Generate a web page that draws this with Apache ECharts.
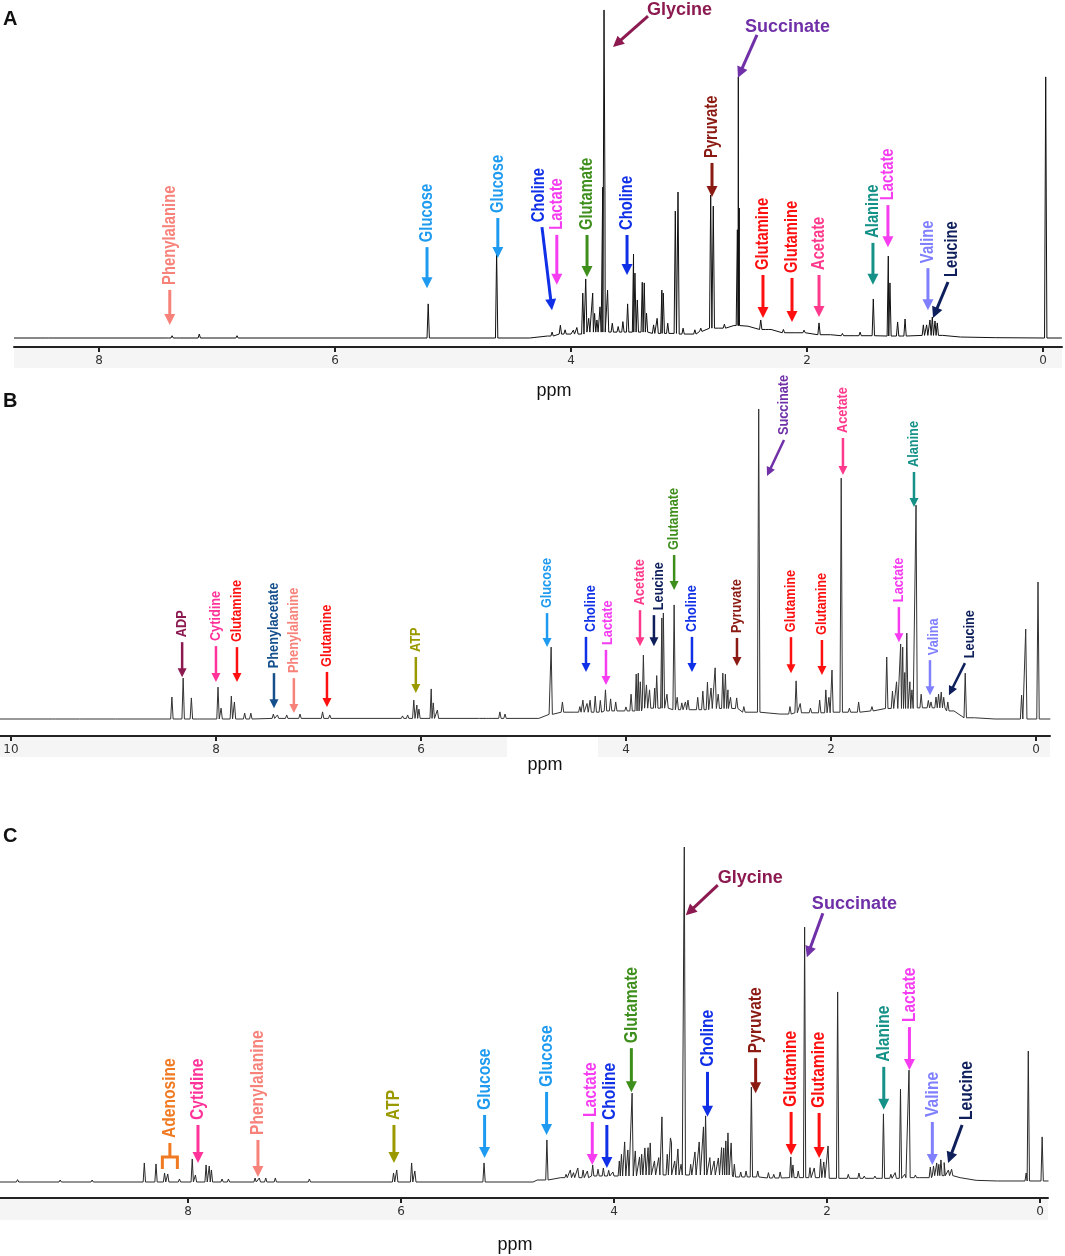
<!DOCTYPE html>
<html>
<head>
<meta charset="utf-8">
<script src="https://cdn.jsdelivr.net/npm/echarts@6/dist/echarts.min.js"></script>
<style>
  html, body { margin: 0; padding: 0; background: #fff; }
  #chart { width: 1065px; height: 1256px; }
</style>
</head>
<body>
<div id="chart"></div>
<script>
// ---- panel A : peaks [ppm, height], baseline [ppm, level]
var peaksA = [
    [8.44, 0.5], [7.42, 0.6], [7.38, 0.7], [7.33, 0.6], [7.15, 1.2], [6.83, 0.7],
    [5.21, 10.4], [4.63, 26.2],
    [4.16, 1.8], [4.09, 3.9], [4.05, 2.5], [3.98, 2.4], [3.95, 3.2],
    [3.90, 13.7], [3.875, 18.0], [3.85, 6.0], [3.816, 13.7], [3.80, 7.5], [3.78, 5.5], [3.754, 9.5],
    [3.731, 46], [3.72, 100], [3.712, 43], [3.69, 14.6], [3.65, 4.5], [3.60, 3.5], [3.56, 5.0],
    [3.52, 10.4], [3.47, 25.6], [3.458, 19.8], [3.438, 11.6], [3.396, 17.0], [3.379, 16.8], [3.36, 7.6],
    [3.30, 4.0], [3.27, 6.0], [3.23, 14.6], [3.218, 13.7], [3.18, 4.5],
    [3.116, 38.7], [3.093, 44.5], [3.05, 3.0], [2.95, 2.5], [2.90, 3.0],
    [2.816, 43.6], [2.794, 40.2], [2.70, 4.2],
    [2.59, 33], [2.582, 79.6], [2.574, 39.6],
    [2.392, 5.5], [2.314, 3.0], [2.20, 2.6], [2.025, 2.4], [1.898, 4.6], [1.70, 1.4], [1.55, 1.8],
    [1.438, 11.9], [1.311, 25], [1.297, 16.8], [1.232, 4.9], [1.169, 5.8], [1.16, 5.5],
    [1.014, 4.0], [0.986, 4.0], [0.958, 5.5], [0.938, 6.4], [0.915, 5.2], [0.896, 4.6],
    [-0.023, 79.6]
];
var baseA = [[8.72, 0], [4.35, 0], [4.2, 0.6], [4.0, 1.2], [3.8, 1.8], [3.5, 1.8], [3.2, 1.4], [3.0, 1.2],
    [2.9, 2.0], [2.75, 3.0], [2.62, 3.8], [2.5, 3.6], [2.35, 2.6], [2.1, 1.6], [1.8, 1.0], [1.6, 0.7],
    [1.2, 0.6], [0.85, 0.8], [0.7, 0.3], [0.4, 0.1], [-0.16, 0]];
var labelsA = ['Phenylalanine', 'Glucose', 'Glucose', 'Choline', 'Lactate', 'Glutamate', 'Choline', 'Pyruvate',
    'Glycine', 'Succinate', 'Glutamine', 'Glutamine', 'Acetate', 'Alanine', 'Lactate', 'Valine', 'Leucine'];
var labelPpmA = [7.40, 5.22, 4.62, 4.161, 4.12, 3.864, 3.525, 2.805, 3.644, 2.585, 2.373, 2.127, 1.898, 1.441, 1.314, 0.975, 0.932];
var labelTipA = [4.0, 15.2, 24.4, 8.5, 16.2, 18.6, 19.2, 43.0, 88.7, 79.3, 6.1, 4.9, 6.4, 16.2, 27.7, 8.5, 6.1];

// ---- panel B
var peaksB = [
    [9.58, 0.6], [9.32, 0.6], [8.97, 0.4],
    [8.43, 7.1], [8.32, 13.2], [8.24, 6.8], [8.17, 0.6],
    [7.98, 10.3], [7.95, 3.5], [7.85, 7.4], [7.82, 5.5], [7.72, 1.9], [7.66, 1.9],
    [7.44, 1.6], [7.40, 1.3], [7.31, 1.3], [7.18, 1.6], [6.96, 2.3], [6.89, 1.3],
    [6.18, 1.0], [6.13, 1.3], [6.07, 6.1], [6.04, 4.5], [6.02, 3.2], [5.90, 9.7], [5.88, 5.2], [5.84, 2.9],
    [5.44, 0.6], [5.35, 0.6], [5.23, 2.3], [5.18, 1.6],
    [4.73, 23.2], [4.62, 5.5], [4.45, 4.0], [4.42, 6.1], [4.38, 5.0], [4.35, 6.1], [4.30, 7.4], [4.25, 6.0],
    [4.20, 9.4], [4.15, 6.5], [4.10, 5.5], [4.00, 3.9], [3.95, 8.0],
    [3.90, 14.5], [3.88, 14.8], [3.86, 12.0], [3.83, 20.6], [3.80, 11.0], [3.77, 9.4], [3.72, 10.0], [3.70, 14.0],
    [3.65, 32.6], [3.635, 34.2], [3.60, 8.0], [3.53, 36.8], [3.50, 7.0],
    [3.455, 5.2], [3.42, 5.5], [3.395, 6.1], [3.30, 7.0], [3.25, 9.0], [3.205, 11.9], [3.17, 10.0], [3.13, 16.5],
    [3.10, 8.0], [3.055, 14.8], [3.03, 14.5], [3.005, 9.4], [2.98, 7.0], [2.92, 6.8], [2.85, 4.0],
    [2.705, 100], [2.40, 4.0], [2.34, 12.3], [2.30, 5.0], [2.20, 3.5], [2.11, 6.1], [2.05, 9.4], [2.02, 7.0],
    [1.99, 15.8], [1.90, 77.7], [1.82, 3.5], [1.73, 5.5], [1.60, 4.0],
    [1.456, 20], [1.40, 9.0], [1.36, 12.0], [1.32, 24.2], [1.30, 23.2], [1.28, 15.0], [1.26, 27.7], [1.23, 12.0],
    [1.21, 9.4], [1.17, 69], [1.12, 8.0], [1.05, 6.0],
    [1.024, 5.5], [0.975, 7.1], [0.95, 8.0], [0.924, 8.7], [0.90, 7.0], [0.86, 5.5], [0.69, 14.8],
    [0.14, 7.7], [0.10, 29], [-0.02, 44.2]
];
var baseB = [[10.11, 0], [4.85, 0.2], [4.75, 1.5], [4.5, 2.2], [4.0, 2.6], [3.7, 3.5], [3.4, 3.0], [3.0, 3.4],
    [2.8, 2.2], [2.5, 1.6], [2.2, 2.0], [1.8, 2.2], [1.6, 2.6], [1.4, 3.4], [1.0, 3.6], [0.8, 2.6],
    [0.6, 0.4], [0.4, 0], [-0.14, 0]];
var labelsB = ['ADP', 'Cytidine', 'Glutamine', 'Phenylacetate', 'Phenylalanine', 'Glutamine', 'ATP', 'Glucose',
    'Choline', 'Lactate', 'Acetate', 'Leucine', 'Glutamate', 'Choline', 'Pyruvate', 'Succinate', 'Glutamine',
    'Glutamine', 'Acetate', 'Lactate', 'Alanine', 'Valina', 'Leucine'];
var labelPpmB = [8.33, 8.00, 7.795, 7.434, 7.24, 6.917, 6.05, 4.77, 4.39, 4.195, 3.863, 3.727, 3.53, 3.356, 2.917,
    2.624, 2.39, 2.088, 1.883, 1.337, 1.19, 1.034, 0.849];
var labelTipB = [13.5, 11.9, 11.9, 3.5, 1.9, 3.9, 8.4, 23.2, 15.2, 11.0, 23.5, 23.5, 41.6, 15.2, 17.1, 78.4, 14.8,
    14.2, 78.7, 24.8, 68.4, 7.7, 7.7];

// ---- panel C
var peaksC = [
    [9.60, 0.4], [9.20, 0.3], [8.90, 0.3],
    [8.41, 5.4], [8.30, 5.1], [8.22, 2.4], [8.19, 2.1], [8.08, 0.6], [7.96, 6.6], [7.93, 1.8],
    [7.83, 4.8], [7.80, 4.5], [7.78, 3.3], [7.68, 0.6], [7.62, 0.6],
    [7.37, 0.9], [7.33, 0.9], [7.27, 0.9], [7.18, 0.9], [6.86, 0.6],
    [6.07, 2.4], [6.04, 3.3], [5.90, 5.4], [5.87, 3.0],
    [5.22, 5.4], [4.63, 12.3],
    [4.45, 2.0], [4.41, 3.3], [4.38, 2.5], [4.34, 3.9], [4.29, 3.3], [4.25, 3.0], [4.20, 4.8], [4.15, 3.5],
    [4.10, 3.9], [4.05, 3.2], [4.01, 2.7], [3.95, 6.0], [3.93, 8.0],
    [3.90, 11.7], [3.87, 9.3], [3.83, 26.3], [3.80, 9.0], [3.76, 7.2], [3.74, 8.0], [3.71, 9.9], [3.68, 10.0],
    [3.66, 11.4], [3.62, 6.0], [3.58, 7.0], [3.55, 19.2], [3.50, 8.0], [3.47, 12.9], [3.46, 11.4], [3.43, 6.0],
    [3.40, 9.6], [3.37, 5.0],
    [3.34, 100], [3.28, 5.0], [3.24, 8.7], [3.20, 11.7], [3.16, 16.2], [3.14, 19.5], [3.10, 7.0], [3.06, 6.0],
    [3.02, 6.9], [2.99, 10.0], [2.97, 9.9], [2.95, 12.0], [2.93, 14.4], [2.90, 11.4], [2.87, 5.0], [2.81, 2.7],
    [2.76, 3.0], [2.71, 28.1], [2.65, 3.0], [2.55, 2.5], [2.50, 2.0], [2.44, 2.7], [2.34, 7.2], [2.32, 4.8],
    [2.27, 3.0], [2.21, 76], [2.16, 4.0], [2.12, 3.9], [2.06, 6.6], [2.03, 5.7], [1.99, 10.5], [1.90, 56.6],
    [1.80, 2.0], [1.70, 2.4], [1.65, 1.5], [1.55, 1.5],
    [1.47, 20.1], [1.40, 2.0], [1.36, 2.5], [1.31, 27.5], [1.27, 2.0], [1.23, 33.2], [1.17, 1.8], [1.12, 1.5],
    [1.03, 4.2], [1.00, 4.5], [0.97, 5.4], [0.95, 5.0], [0.93, 6.3], [0.90, 5.5], [0.86, 3.3], [0.83, 3.5],
    [0.13, 2.4], [0.11, 38.9], [-0.02, 13.2]
];
var baseC = [[9.77, -0.3], [4.76, -0.3], [4.72, 0.3], [4.5, 1.0], [4.0, 1.5], [3.5, 1.8], [3.0, 1.8], [2.8, 1.2],
    [2.5, 0.9], [2.2, 1.0], [1.8, 0.8], [1.5, 0.8], [1.1, 1.0], [0.9, 1.6], [0.75, 1.0], [0.6, 0.2],
    [0.4, 0], [-0.08, 0]];
var labelsC = ['Adenosine', 'Cytidine', 'Phenylalanine', 'ATP', 'Glucose', 'Glucose', 'Lactate', 'Choline',
    'Glutamate', 'Glycine', 'Choline', 'Pyruvate', 'Glutamine', 'Succinate', 'Glutamine', 'Alanine', 'Lactate',
    'Valine', 'Leucine'];
var labelPpmC = [8.17, 7.906, 7.343, 6.066, 5.215, 4.633, 4.204, 4.067, 3.837, 3.326, 3.122, 2.670, 2.337, 2.189,
    2.074, 1.467, 1.226, 1.011, 0.863];
var labelTipC = [3.6, 5.4, 1.2, 5.4, 6.9, 13.8, 4.8, 3.9, 26.6, 79.6, 19.2, 26.3, 7.8, 67.0, 6.9, 21.3, 33.2, 4.8, 5.4];

var ticksA = [0, 2, 4, 6, 8];
var ticksB = [0, 2, 4, 6, 8, 10];
var ticksC = [0, 2, 4, 6, 8];

// ---- annotation layout: [tail dx, tail dy (px from tip), mode v/h/b, text dx, text dy]
var arrowA = [[0, -35], [0, -41], [0, -40], [-10, -83, 'v', -3], [0, -50], [0, -42], [0, -40], [0, -34],
    [35, -31, 'h', -1, -6], [19, -43, 'h', -12, -8], [0, -43], [0, -44], [0, -42], [0, -42], [0, -42], [0, -42],
    [15, -36, 'v', 4]];
var arrowB = [[0, -35], [0, -36], [0, -35], [0, -35], [0, -35], [0, -35], [0, -36], [0, -34], [0, -35, 'v', 5],
    [0, -35, 'v', 2], [0, -36], [0, -31, 'v', 5], [0, -35], [0, -35], [0, -28], [17, -36, 'v', 0], [0, -36],
    [0, -35], [0, -37], [0, -35], [0, -35], [0, -35, 'v', 4], [16, -32, 'v', 5]];
var arrowC = [[0, -26, 'b'], [0, -38], [0, -37], [0, -38], [0, -43], [0, -43], [0, -43, 'v', -2], [0, -43, 'v', 3], [0, -44],
    [32, -30, 'h', 0, -7], [0, -45], [0, -35], [0, -43], [16, -44, 'h', -11, -9], [0, -45], [0, -43], [0, -43],
    [0, -43], [14, -38, 'v', 5]];

var colors = {
    'Glucose': '#1E9BF0', 'Choline': '#1030E8', 'Lactate': '#F53CF0', 'Glutamate': '#3E8E1C',
    'Glycine': '#8C1A50', 'Succinate': '#7030A8', 'Pyruvate': '#8B1A12', 'Glutamine': '#FF1010',
    'Acetate': '#FF3A8C', 'Alanine': '#159188', 'Valine': '#8080FF', 'Valina': '#8080FF',
    'Leucine': '#0E1F5B', 'Phenylalanine': '#F7827A', 'ADP': '#8C1A50', 'Cytidine': '#FF3399',
    'Phenylacetate': '#154F8C', 'ATP': '#9A9A00', 'Adenosine': '#F07A22'
};

var FONT = '"Liberation Sans", Arial, sans-serif';

function nearestLevel(base, p) {
    var best = base[0];
    for (var i = 1; i < base.length; i++) {
        if (Math.abs(base[i][0] - p) < Math.abs(best[0] - p)) best = base[i];
    }
    return best[1];
}

//峰 -> 折线点
function buildTrace(peaks, base, w) {
    var pts = base.map(function (b) { return [b[0], b[1]]; });
    peaks.forEach(function (pk) {
        var f = nearestLevel(base, pk[0]);
        pts.push([pk[0] + w, f], [pk[0], pk[1]], [pk[0] - w, f]);
    });
    pts.sort(function (a, b) { return b[0] - a[0]; });
    return pts;
}

function annotations(gi, labels, ppms, tips, layout, fontSize, sw, head) {
    return {
        type: 'custom',
        xAxisIndex: gi,
        yAxisIndex: gi,
        clip: false,
        silent: true,
        z: 5,
        encode: { x: 0, y: 1 },
        data: ppms.map(function (p, i) { return [p, tips[i], i]; }),
        renderItem: function (params, api) {
            var i = api.value(2);
            var name = labels[i], lay = layout[i], color = colors[name];
            var tip = api.coord([api.value(0), api.value(1)]);
            var tail = [tip[0] + lay[0], tip[1] + lay[1]];
            var mode = lay[2] || 'v';
            var children = [];
            if (mode === 'b') {
                var barY = tip[1] - 12, hw = 7.5;
                children.push({
                    type: 'polyline',
                    shape: { points: [[tip[0] - hw, tip[1]], [tip[0] - hw, barY], [tip[0] + hw, barY], [tip[0] + hw, tip[1]]] },
                    style: { stroke: color, lineWidth: sw, fill: null }
                });
                children.push({
                    type: 'line',
                    shape: { x1: tip[0], y1: barY, x2: tail[0], y2: tail[1] },
                    style: { stroke: color, lineWidth: sw }
                });
            } else {
                var ddx = tip[0] - tail[0], ddy = tip[1] - tail[1];
                var L = Math.sqrt(ddx * ddx + ddy * ddy);
                var ux = ddx / L, uy = ddy / L;
                var bx = tip[0] - ux * head[0], by = tip[1] - uy * head[0];
                var px = -uy * head[1] / 2, py = ux * head[1] / 2;
                children.push({
                    type: 'line',
                    shape: { x1: tail[0], y1: tail[1], x2: bx + ux, y2: by + uy },
                    style: { stroke: color, lineWidth: sw }
                });
                children.push({
                    type: 'polygon',
                    shape: { points: [[tip[0], tip[1]], [bx + px, by + py], [bx - px, by - py]] },
                    style: { fill: color }
                });
            }
            if (mode === 'h') {
                children.push({
                    type: 'text',
                    x: tail[0] + lay[3],
                    y: tail[1] + lay[4],
                    style: {
                        text: name, fill: color, fontSize: 18, fontWeight: 'bold', fontFamily: FONT,
                        align: 'left', verticalAlign: 'middle'
                    }
                });
            } else {
                children.push({
                    type: 'text',
                    x: tail[0] + (lay[3] || 0),
                    y: tail[1] - 5,
                    rotation: Math.PI / 2,
                    scaleX: 0.82,
                    style: {
                        text: name, fill: color, fontSize: fontSize, fontWeight: 'bold', fontFamily: FONT,
                        align: 'left', verticalAlign: 'middle'
                    }
                });
            }
            return { type: 'group', children: children };
        }
    };
}

function xAxisOf(gi, min, max, ticks) {
    return {
        gridIndex: gi,
        type: 'value',
        inverse: true,
        min: min,
        max: max,
        splitLine: { show: false },
        axisLine: { onZero: false, lineStyle: { color: '#222', width: 2 } },
        axisTick: { customValues: ticks, length: 5, lineStyle: { color: '#222', width: 2 } },
        axisLabel: { customValues: ticks, color: '#333', fontSize: 12, margin: 8, fontFamily: 'DejaVu Sans' }
    };
}

function yAxisOf(gi, min, max) {
    return { gridIndex: gi, type: 'value', min: min, max: max, show: false };
}

function trace(gi, data, color) {
    return {
        type: 'line',
        xAxisIndex: gi,
        yAxisIndex: gi,
        data: data,
        showSymbol: false,
        silent: true,
        lineStyle: { color: color, width: 1 },
        z: 3
    };
}

var chart = echarts.init(document.getElementById('chart'), null, { renderer: 'canvas' });

var option = {
    animation: false,
    backgroundColor: '#fff',
    grid: [
        { left: 14, right: 3, top: 8, height: 339 },
        { left: 0, right: 15, top: 400, height: 336 },
        { left: 0, right: 17, top: 845, height: 353 }
    ],
    xAxis: [
        xAxisOf(0, -0.161, 8.72, ticksA),
        xAxisOf(1, -0.137, 10.107, ticksB),
        xAxisOf(2, -0.075, 9.765, ticksC)
    ],
    yAxis: [
        yAxisOf(0, -2.74, 100.6),
        yAxisOf(1, -5.48, 102.9),
        yAxisOf(2, -5.09, 100.6)
    ],
    graphic: [
        { type: 'rect', z: -1, shape: { x: 14, y: 348, width: 1048, height: 20 }, style: { fill: '#f5f5f5' } },
        { type: 'rect', z: -1, shape: { x: 0, y: 737, width: 507, height: 20 }, style: { fill: '#f5f5f5' } },
        { type: 'rect', z: -1, shape: { x: 598, y: 737, width: 452, height: 20 }, style: { fill: '#f5f5f5' } },
        { type: 'rect', z: -1, shape: { x: 0, y: 1199, width: 1048, height: 21 }, style: { fill: '#f5f5f5' } },
        { type: 'text', left: 3, top: 9, style: { text: 'A', fontSize: 20, fontWeight: 'bold', fontFamily: FONT, fill: '#111' } },
        { type: 'text', left: 3, top: 391, style: { text: 'B', fontSize: 20, fontWeight: 'bold', fontFamily: FONT, fill: '#111' } },
        { type: 'text', left: 3, top: 826, style: { text: 'C', fontSize: 20, fontWeight: 'bold', fontFamily: FONT, fill: '#111' } },
        { type: 'text', x: 554, y: 391, style: { text: 'ppm', fontSize: 18, fontFamily: FONT, fill: '#111', align: 'center', verticalAlign: 'middle' } },
        { type: 'text', x: 545, y: 765, style: { text: 'ppm', fontSize: 18, fontFamily: FONT, fill: '#111', align: 'center', verticalAlign: 'middle' } },
        { type: 'text', x: 515, y: 1245, style: { text: 'ppm', fontSize: 18, fontFamily: FONT, fill: '#111', align: 'center', verticalAlign: 'middle' } }
    ],
    series: [
        trace(0, buildTrace(peaksA, baseA, 0.010), '#111'),
        trace(1, buildTrace(peaksB, baseB, 0.012), '#333'),
        trace(2, buildTrace(peaksC, baseC, 0.011), '#2a2a2a'),
        annotations(0, labelsA, labelPpmA, labelTipA, arrowA, 18, 3, [11, 11]),
        annotations(1, labelsB, labelPpmB, labelTipB, arrowB, 15.5, 2.5, [9, 9]),
        annotations(2, labelsC, labelPpmC, labelTipC, arrowC, 19, 3, [11, 11])
    ]
};
chart.setOption(option);
</script>
</body>
</html>
